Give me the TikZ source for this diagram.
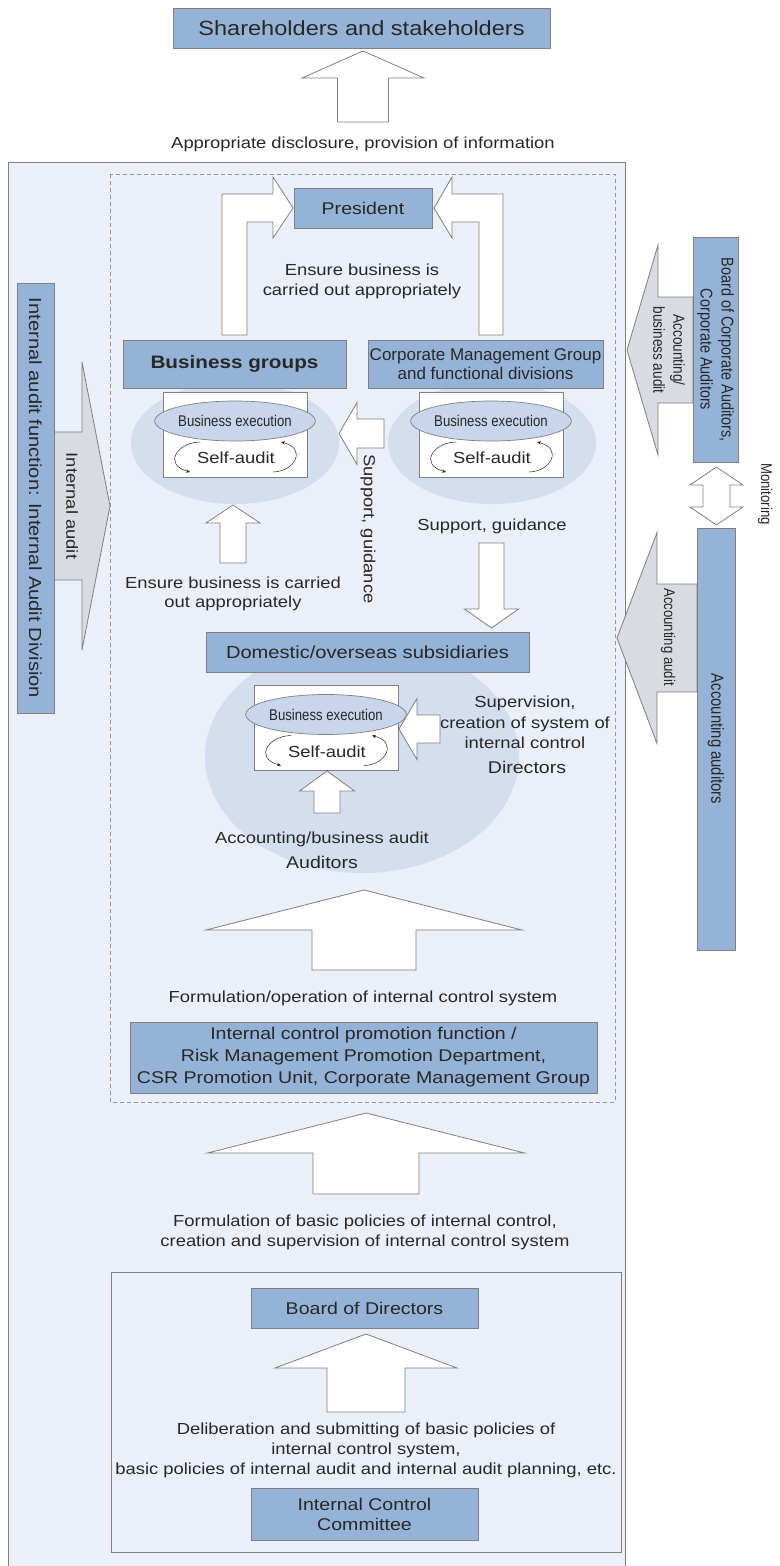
\documentclass[tikz,border=0pt]{standalone}
\usepackage{fontspec}
\setmainfont{Liberation Sans}[FakeStretch=1.15]
\newfontfamily\plainsans{Liberation Sans}
\newfontfamily\narrowsans{Liberation Sans}[FakeStretch=0.85]
\usetikzlibrary{shapes.geometric,arrows.meta}

\definecolor{boxblue}{RGB}{149,179,215}
\definecolor{panelfill}{RGB}{234,239,248}
\definecolor{softblue}{RGB}{212,222,238}
\definecolor{execfill}{RGB}{200,213,234}
\definecolor{arrgray}{RGB}{216,219,226}
\definecolor{edgec}{RGB}{128,128,128}
\definecolor{textc}{RGB}{40,40,40}

% vertical block arrow: [style]{centre x}{tip y}{head base y}{head half width}{shaft half width}{tail y}
\newcommand\VBlock[7][blockarrow]{%
  \draw[#1] (#2,#3) -- ({#2+#5},#4) -- ({#2+#6},#4) -- ({#2+#6},#7)
    -- ({#2-#6},#7) -- ({#2-#6},#4) -- ({#2-#5},#4) -- cycle;}
% horizontal block arrow: [style]{centre y}{tip x}{head base x}{head half height}{shaft half height}{tail x}
\newcommand\HBlock[7][blockarrow]{%
  \draw[#1] (#3,#2) -- (#4,{#2-#5}) -- (#4,{#2-#6}) -- (#7,{#2-#6})
    -- (#7,{#2+#6}) -- (#4,{#2+#6}) -- (#4,{#2+#5}) -- cycle;}

\tikzset{
  txt/.style={font=\fontsize{16}{19.5}\selectfont, text=textc, align=center, inner sep=0pt},
  bluebox/.style={draw=edgec, fill=boxblue, line width=0.8pt, text=textc, align=center, inner sep=0pt},
  blockarrow/.style={draw=edgec, fill=white, line width=0.8pt, line join=miter},
  grayarrow/.style={draw=edgec, fill=arrgray, line width=0.8pt, line join=miter},
  softell/.style={ellipse, fill=softblue, inner sep=0pt},
  execbox/.style={draw=edgec, fill=white, line width=0.8pt, minimum width=144pt, minimum height=85pt, inner sep=0pt},
  execell/.style={ellipse, draw=edgec, fill=execfill, line width=0.7pt, minimum width=132pt, minimum height=40pt, inner sep=0pt, text=textc},
  cyclearrow/.style={draw=textc, line width=0.5pt, -{Stealth[length=4pt,width=3.5pt]}},
  execunit/.pic={
    \node[execbox] (-box) at (0,0) {};
    \node[execell] (-exec) at (0,-13.5) {\narrowsans\fontsize{15.5}{17}\selectfont Business execution};
    \node[txt] (-self) at (1,23.5) {Self-audit};
    \draw[cyclearrow] (-35,7.5) .. controls (-58,8) and (-72,30) .. (-45,37.5);
    \draw[cyclearrow] (38,37.5) .. controls (60,37) and (72,14) .. (46,7.5);
  }
}

\begin{document}
\begin{tikzpicture}[x=1pt,y=-1pt]
\useasboundingbox (0,0) rectangle (779,1566);

% outer panel and dashed execution area
\draw[fill=panelfill, draw=edgec, line width=0.8pt] (8,162) rectangle (625,1570);
\draw[draw=edgec!80, line width=0.8pt, dash pattern=on 4pt off 3pt] (110,174) rectangle (615,1102);

% soft backgrounds behind the execution units
\node[softell, minimum width=208pt, minimum height=122pt] (bgsoft) at (235,443) {};
\node[softell, minimum width=208pt, minimum height=122pt] (cmsoft) at (492,443) {};
\node[softell, minimum width=314pt, minimum height=232pt] (subsoft) at (362,757) {};

% top: disclosure to shareholders
\node[bluebox, minimum width=377pt, minimum height=40pt, font=\fontsize{20.5}{24}\selectfont] (share) at (361.5,28) {Shareholders and stakeholders};
\VBlock{363}{51}{78}{61}{25.5}{122}
\node[txt] (disc) at (363,144) {Appropriate disclosure, provision of information};

% reporting arrows towards the president
\draw[blockarrow] (222,335) -- (222,194) -- (273,194) -- (273,177) -- (293,208) -- (273,238) -- (273,222) -- (247,222) -- (247,335) -- cycle;
\draw[blockarrow] (503,335) -- (503,194) -- (452,194) -- (452,177) -- (434,208) -- (452,238) -- (452,222) -- (479,222) -- (479,335) -- cycle;
\node[bluebox, minimum width=138pt, minimum height=40pt, font=\fontsize{17}{20}\selectfont] (pres) at (363,208) {President};
\node[txt] (ensure1) at (362,281.5) {Ensure business is\\carried out appropriately};

% business groups and corporate management
\node[bluebox, minimum width=223pt, minimum height=48pt, font=\fontsize{18}{21}\selectfont\bfseries] (bgroups) at (234.5,364) {Business groups};
\node[bluebox, minimum width=235pt, minimum height=48pt, font=\plainsans\fontsize{17}{19}\selectfont] (corp) at (485.5,364) {Corporate Management Group\\and functional divisions};
\pic (bgx) at (235,434.5) {execunit};
\pic (cmx) at (491,434.5) {execunit};

\HBlock{433.5}{339}{357}{31}{14.5}{384}
\node[txt, rotate=-90] (supv) at (368,529) {Support, guidance};
\VBlock{233}{505}{523}{27}{13}{563}
\node[txt] (ensure2) at (233,594) {Ensure business is carried\\out appropriately};
\node[txt] (suph) at (492,526) {Support, guidance};
\VBlock{491.5}{628}{609}{27}{12.5}{543}

% subsidiaries
\node[bluebox, minimum width=323pt, minimum height=40pt, font=\fontsize{17.5}{20}\selectfont] (subs) at (367.5,652) {Domestic/overseas subsidiaries};
\pic (sbx) at (326,728) {execunit};
\HBlock{729}{399}{417}{30.5}{14}{440}
\node[txt, font=\fontsize{16}{20.5}\selectfont] (superv) at (525,722.5) {Supervision,\\creation of system of\\internal control};
\node[txt, font=\fontsize{17}{20}\selectfont] (dirs) at (527,767) {Directors};
\VBlock{327}{771}{791}{27.5}{13}{813}
\node[txt] (accbus) at (322,839) {Accounting/business audit};
\node[txt, font=\fontsize{17}{20}\selectfont] (auds) at (322,862) {Auditors};

% internal control promotion
\VBlock{364}{890}{930}{158}{52}{970}
\node[txt] (formop) at (363,998) {Formulation/operation of internal control system};
\node[bluebox, minimum width=467pt, minimum height=71pt, font=\fontsize{17}{22}\selectfont] (promo) at (363.5,1057.5) {Internal control promotion function /\\Risk Management Promotion Department,\\CSR Promotion Unit, Corporate Management Group};

% board of directors and committee
\VBlock{366}{1113}{1153}{158.5}{53}{1194}
\node[txt, font=\fontsize{16}{20}\selectfont] (formbasic) at (365,1232) {Formulation of basic policies of internal control,\\creation and supervision of internal control system};
\draw[fill=panelfill, draw=edgec, line width=0.8pt] (111,1272) rectangle (621,1552);
\node[bluebox, minimum width=227pt, minimum height=40pt, font=\fontsize{17}{20}\selectfont] (bod) at (364.5,1308) {Board of Directors};
\VBlock{366}{1334}{1368}{91}{39}{1412}
\node[txt, font=\fontsize{16}{20}\selectfont] (delib) at (366,1450) {Deliberation and submitting of basic policies of\\internal control system,\\basic policies of internal audit and internal audit planning, etc.};
\node[bluebox, minimum width=227pt, minimum height=52pt, font=\fontsize{17}{20}\selectfont] (icc) at (364.5,1514) {Internal Control\\Committee};

% internal audit division on the left
\HBlock[grayarrow]{506}{110}{82}{144}{74}{54}
\node[bluebox, rotate=-90, minimum width=430pt, minimum height=37pt, font=\fontsize{17.5}{20}\selectfont] (iad) at (35.5,498) {Internal audit function: Internal Audit Division};
\node[txt, rotate=-90] (ia) at (72,506) {Internal audit};

% auditors on the right
\HBlock[grayarrow]{350}{627}{658}{105}{53}{693}
\node[bluebox, rotate=-90, minimum width=225pt, minimum height=45pt, font=\narrowsans\fontsize{17}{21}\selectfont] (bca) at (715.5,349.5) {Board of Corporate Auditors,\\Corporate Auditors};
\node[txt, rotate=-90, font=\narrowsans\fontsize{16}{20}\selectfont] (accbusv) at (669,350) {Accounting/\\business audit};

\HBlock[grayarrow]{638}{617}{657}{105.5}{54}{697}
\node[bluebox, rotate=-90, minimum width=422pt, minimum height=38pt, font=\narrowsans\fontsize{17.5}{20}\selectfont] (acca) at (716,739) {Accounting auditors};
\node[txt, rotate=-90, font=\narrowsans\fontsize{15.5}{18}\selectfont] (accaud) at (668,637) {Accounting audit};

% monitoring between the two auditor bodies
\draw[blockarrow] (716.5,467) -- (743,485) -- (730,485) -- (730,507) -- (743,507) -- (716.5,525)
  -- (690,507) -- (703,507) -- (703,485) -- (690,485) -- cycle;
\node[txt, rotate=-90, font=\narrowsans\fontsize{15.5}{18}\selectfont] (mon) at (765,494) {Monitoring};
\end{tikzpicture}
\end{document}
